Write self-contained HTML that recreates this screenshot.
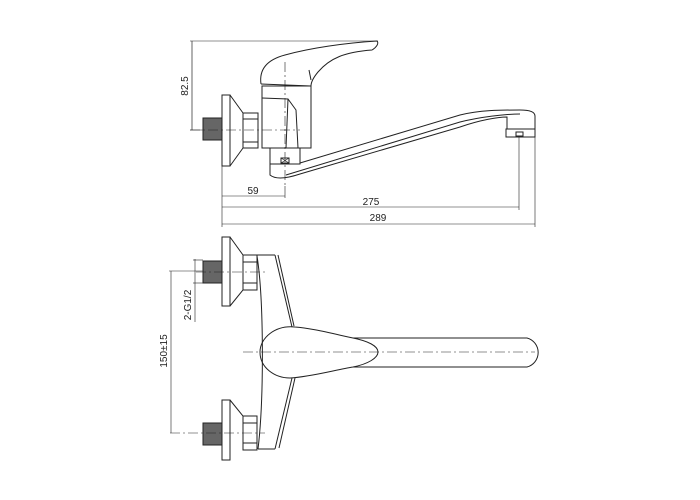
<!DOCTYPE html>
<html><head><style>html,body{margin:0;padding:0;background:#fff}svg{display:block}</style></head>
<body>
<svg width="700" height="500" viewBox="0 0 700 500" xmlns="http://www.w3.org/2000/svg" font-family="Liberation Sans, sans-serif" font-size="10">
<g fill="none" stroke="#222" stroke-width="1">
<!-- TOP VIEW -->
<line x1="192" y1="41" x2="192" y2="130" stroke-width="0.7"/>
<line x1="190" y1="41" x2="378" y2="41" stroke-width="0.6"/>
<line x1="190" y1="130" x2="222" y2="130" stroke-width="0.6"/>
<path d="M261 84 C259 70 266 60 285 55 C310 48 345 43 377 41 C379 43 377 47 372 50 C345 52 330 58 318 72 C313 78 311 82 311 86"/>
<line x1="261" y1="84" x2="311" y2="86"/>
<line x1="309" y1="70" x2="311" y2="80"/>
<rect x="262" y="86" width="49" height="62"/>
<path d="M262 98 L288 99 L296 110 L298 148"/>
<path d="M288 99 L286 148"/>
<rect x="270" y="148" width="30" height="16"/>
<rect x="281" y="158" width="8" height="5"/>
<path d="M281 158 L289 163 M289 158 L281 163" stroke-width="0.6"/>
<rect x="222" y="95" width="8" height="71"/>
<path d="M230 95 L243 113 L243 148 L230 166"/>
<rect x="243" y="113" width="15" height="35"/>
<line x1="243" y1="119" x2="258" y2="119"/><line x1="243" y1="142" x2="258" y2="142"/>
<rect x="203" y="118" width="19" height="22" fill="#666"/>
<path d="M270 164 L270 175 C276 180 288 178 300 174 L460 127 C480 120 498 117 507 117 L507 129"/>
<path d="M300 163 L460 115 C480 110 500 110 520 110 C530 110 535 112 535 116 L535 131"/>
<path d="M286 175 L460 122 C480 117 505 114 520 114"/>
<rect x="506" y="129" width="29" height="8"/>
<rect x="516" y="132" width="7" height="4"/>
<line x1="285" y1="62" x2="285" y2="186" stroke-width="0.6" stroke-dasharray="10,3,2,3"/>
<line x1="190" y1="130" x2="300" y2="130" stroke-width="0.6" stroke-dasharray="10,3,2,3"/>
<line x1="222" y1="166" x2="222" y2="227" stroke-width="0.6"/>
<line x1="285" y1="186" x2="285" y2="198" stroke-width="0.6"/>
<line x1="519" y1="137" x2="519" y2="210" stroke-width="0.6"/>
<line x1="535" y1="131" x2="535" y2="227" stroke-width="0.6"/>
<line x1="222" y1="196" x2="285" y2="196" stroke-width="0.6"/>
<line x1="222" y1="207" x2="519" y2="207" stroke-width="0.6"/>
<line x1="222" y1="224" x2="535" y2="224" stroke-width="0.6"/>

<!-- BOTTOM VIEW -->
<rect x="222" y="237" width="8" height="69"/>
<path d="M230 237 L243 255 L243 290 L230 306"/>
<rect x="243" y="255" width="14" height="35"/>
<line x1="243" y1="262" x2="257" y2="262"/><line x1="243" y1="283" x2="257" y2="283"/>
<rect x="203" y="261" width="19" height="22" fill="#666"/>
<rect x="222" y="400" width="8" height="60"/>
<path d="M230 400 L243 416 L243 450"/>
<rect x="243" y="416" width="14" height="34"/>
<line x1="243" y1="423" x2="257" y2="423"/><line x1="243" y1="443" x2="257" y2="443"/>
<rect x="203" y="423" width="19" height="22" fill="#666"/>
<line x1="257" y1="255" x2="275" y2="255"/>
<path d="M257 256 C264 300 264 400 258 449"/>
<path d="M275 255 L292 327"/>
<path d="M278 255 L294 326"/>
<line x1="258" y1="449" x2="275" y2="449"/>
<path d="M275 449 L292 378"/>
<path d="M279 448 L295 378"/>
<path d="M353 338 L527 338 A15 15 0 0 1 527 367 L353 367"/>
<path d="M353 338 C330 333 310 328 295 327 C275 325 260 338 260 352 C260 368 275 378 290 378 C310 377 335 370 353 367 C368 364 378 358 378 352 C378 346 368 341 353 338"/>
<line x1="243" y1="352" x2="535" y2="352" stroke-width="0.6" stroke-dasharray="10,3,2,3"/>
<line x1="196" y1="272" x2="265" y2="272" stroke-width="0.6" stroke-dasharray="10,3,2,3"/>
<line x1="170" y1="433" x2="265" y2="433" stroke-width="0.6" stroke-dasharray="10,3,2,3"/>
<line x1="195" y1="259" x2="195" y2="322" stroke-width="0.6"/>
<line x1="193" y1="260" x2="203" y2="260" stroke-width="0.6"/>
<line x1="193" y1="283" x2="203" y2="283" stroke-width="0.6"/>
<line x1="171" y1="271" x2="171" y2="433" stroke-width="0.6"/>
<line x1="169" y1="271" x2="203" y2="271" stroke-width="0.6"/>
</g>
<g fill="#222">
<text x="188" y="86" transform="rotate(-90 188 86)" text-anchor="middle">82.5</text>
<text x="253" y="194" text-anchor="middle">59</text>
<text x="371" y="205" text-anchor="middle">275</text>
<text x="378" y="221" text-anchor="middle">289</text>
<text x="191" y="305" transform="rotate(-90 191 305)" text-anchor="middle">2-G1/2</text>
<text x="167" y="351" transform="rotate(-90 167 351)" text-anchor="middle">150±15</text>
</g>
</svg>
</body></html>
